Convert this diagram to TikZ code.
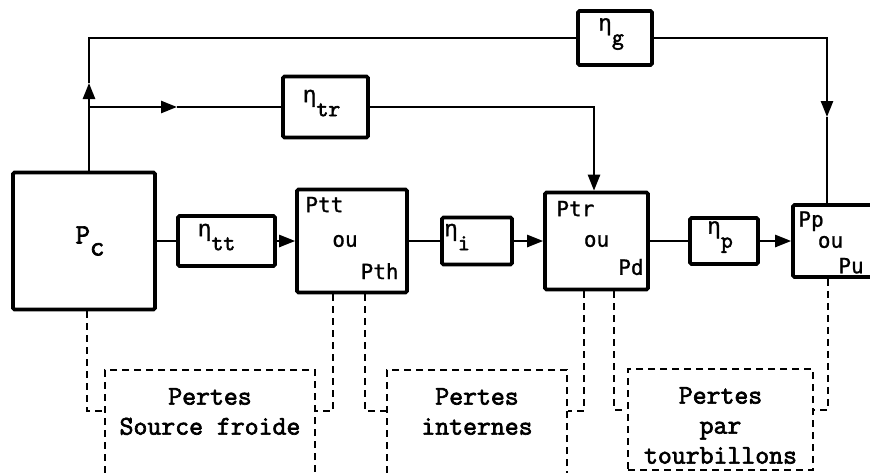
\documentclass[tikz,border=0pt]{standalone}
\usepackage{fontspec}
\newfontfamily\typefont[FakeBold=2.5]{Latin Modern Mono}
\newfontfamily\etafont[FakeBold=1.5]{Liberation Mono}
\newfontfamily\handfont[FakeBold=1]{DejaVu Sans Mono}
\usetikzlibrary{positioning,arrows.meta}
\newcommand{\effsub}[1]{{\etafont η}\raisebox{-14pt}{#1}}

\begin{document}
\begin{tikzpicture}[x=1pt,y=-1pt,
  blk/.style={draw,line width=3.6pt,rounded corners=1.5pt,inner sep=0pt},
  eff/.style={font=\typefont\fontsize{23}{23}\selectfont,inner sep=0pt},
  hand/.style={font=\handfont\fontsize{21}{21}\selectfont,inner sep=0pt},
  flow/.style={line width=2.5pt},
  tip/.style={-{Triangle[length=16pt,width=12pt]}},
  loss/.style={draw,dash pattern=on 7pt off 5pt,line width=2.2pt,inner sep=0pt},
  lossline/.style={dash pattern=on 7pt off 5pt,line width=2.2pt},
  losstxt/.style={font=\typefont\fontsize{27}{30}\selectfont,align=center,inner sep=0pt}]
  \useasboundingbox (0,0) rectangle (870,472);

  % power blocks
  \node[blk,minimum width=142pt,minimum height=137pt] (pc) at (84,241) {};
  \node[blk,minimum width=110pt,minimum height=103pt] (ptt) at (352,241) {};
  \node[blk,minimum width=103pt,minimum height=97pt] (ptr) at (596.5,241) {};
  \node[blk,minimum width=87pt,minimum height=72pt] (pp) at (836.5,241) {};
  \node[font=\typefont\fontsize{28}{28}\selectfont] (pcl) at ([xshift=6pt]pc.center) {P\raisebox{-12pt}{c}};
  \node[hand,below right=9pt and 10pt of ptt.north west] (ptt1) {Ptt};
  \node[hand] (ptt2) at ([xshift=-7pt]ptt.center) {ou};
  \node[hand,above left=15pt and 10pt of ptt.south east] (ptt3) {Pth};
  \node[hand,below right=10pt and 13pt of ptr.north west] (ptr1) {Ptr};
  \node[hand] (ptr2) at (ptr.center) {ou};
  \node[hand,above left=16pt and 6pt of ptr.south east] (ptr3) {Pd};
  \node[hand,below right=8pt and 7pt of pp.north west] (pp1) {Pp};
  \node[hand] (pp2) at ([xshift=-6pt,yshift=-1pt]pp.center) {ou};
  \node[hand,above right=5pt and 47pt of pp.south west] (pp3) {Pu};

  % efficiency blocks
  \node[blk,minimum width=97pt,minimum height=50pt] (ntt) at (226.5,241) {};
  \node[blk,minimum width=70pt,minimum height=47pt] (ni) at (477,241) {};
  \node[blk,minimum width=68pt,minimum height=46pt] (np) at (724,241) {};
  \node[blk,minimum width=85pt,minimum height=61pt] (ntr) at (325.5,107) {};
  \node[blk,minimum width=74pt,minimum height=54pt] (ng) at (615,38) {};
  \node[eff] at ([xshift=-10pt,yshift=4pt]ntt.center) {\effsub{tt}};
  \node[eff] at ([xshift=-20pt,yshift=4pt]ni.center) {\effsub{i}};
  \node[eff] at ([xshift=-4pt,yshift=4pt]np.center) {\effsub{p}};
  \node[eff] at ([xshift=-4pt,yshift=4pt]ntr.center) {\effsub{tr}};
  \node[eff] at ([xshift=-4pt,yshift=4pt]ng.center) {\effsub{g}};

  % main chain
  \draw[flow] (pc) -- (ntt);
  \draw[flow,tip] (ntt) -- (ptt);
  \draw[flow] (ptt) -- (ni);
  \draw[flow,tip] (ni) -- (ptr);
  \draw[flow] (ptr) -- (np);
  \draw[flow,tip] (np) -- (pp);

  % upper branches
  \coordinate (up) at (89,83);
  \coordinate (br) at (89,107);
  \coordinate (mid) at (177,107);
  \coordinate (gdn) at (827,117);
  \draw[flow,tip] ([xshift=5pt]pc.north) -- (up);
  \draw[flow] (up) |- (ng);
  \draw[flow,tip] (br) -- (mid);
  \draw[flow] (mid) -- (ntr);
  \draw[flow,tip] (ntr) -| ([xshift=-2.5pt]ptr.north);
  \draw[flow,tip] (ng) -| (gdn);
  \draw[flow] (gdn) -- (gdn |- pp.north);

  % losses
  \node[loss,minimum width=210pt,minimum height=120pt] (l1) at (210,430) {};
  \node[loss,minimum width=180pt,minimum height=120pt] (l2) at (477,430) {};
  \node[loss,minimum width=185pt,minimum height=101pt] (l3) at (720.5,419.5) {};
  \node[losstxt,below=19pt of l1.north] (lt1) {Pertes\\Source froide};
  \node[losstxt,below=19pt of l2.north] (lt2) {Pertes\\internes};
  \node[losstxt,below=19pt of l3.north] (lt3) {Pertes\\par\\tourbillons};
  \draw[lossline] ([xshift=3pt]pc.south) |- ([yshift=-42pt]l1.north west);
  \draw[lossline] ([xshift=-19pt]ptt.south) |- ([yshift=-42pt]l1.north east);
  \draw[lossline] ([xshift=13pt]ptt.south) |- ([yshift=-42pt]l2.north west);
  \draw[lossline] ([xshift=-12.5pt]ptr.south) |- ([yshift=-42pt]l2.north east);
  \draw[lossline] ([xshift=17.5pt]ptr.south) |- ([yshift=-42pt]l3.north west);
  \draw[lossline] ([xshift=-8.5pt]pp.south) |- ([yshift=-42pt]l3.north east);
\end{tikzpicture}
\end{document}
